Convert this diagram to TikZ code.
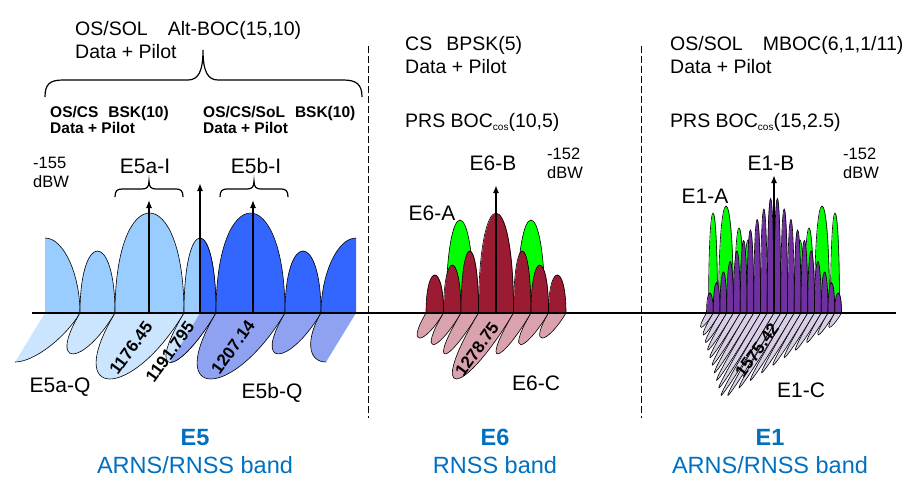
\documentclass[tikz,border=0pt]{standalone}
\usepackage{fontspec}
\setmainfont{Liberation Sans}
\usepackage{tikz}
\usetikzlibrary{arrows.meta}
\definecolor{e5alight}{HTML}{99CCFF}
\definecolor{e5bdark}{HTML}{3366FF}
\definecolor{e5aq}{HTML}{CCE5FF}
\definecolor{e5bq}{HTML}{8FA2F2}
\definecolor{e6red}{HTML}{9A1B32}
\definecolor{e6pink}{HTML}{D9A2AD}
\definecolor{boclime}{HTML}{00FF00}
\definecolor{e1violet}{HTML}{7030A0}
\definecolor{e1lilac}{HTML}{D8CFE6}
\definecolor{bandblue}{HTML}{0070C0}
% a lobe above the axis (from, to, height) and a slanted one below it (from, to, depth)
\newcommand{\upperlobe}[4][]{\draw[#1] ({#2},313) .. controls ({#2},{313-1.333*(#4)}) and ({#3},{313-1.333*(#4)}) .. ({#3},313);}
\newcommand{\lowerlobe}[4][]{\draw[#1] ({#2},313) .. controls ({#2-0.8*(#4)},{313+1.333*(#4)}) and ({#3-0.8*(#4)},{313+1.333*(#4)}) .. ({#3},313);}
\tikzset{
lobe/.style={draw=black, line width=0.6pt},
carrier/.style={line width=#1, -{Latex[length=8pt,width=6pt]}},
carrier/.default=1.3pt,
axisline/.style={line width=2pt},
sep/.style={dash pattern=on 7pt off 3pt, line width=0.8pt},
brace/.style={line width=1.2pt},
txt/.style={inner sep=0pt, anchor=base west, font=\fontsize{19.5}{22}\selectfont},
boldtxt/.style={txt, font=\bfseries\fontsize{15.5}{17}\selectfont},
powtxt/.style={txt, font=\fontsize{16.5}{18}\selectfont},
sig/.style={inner sep=0pt, anchor=base, font=\fontsize{21}{24}\selectfont},
freq/.style={inner sep=0pt, rotate=54, font=\bfseries\fontsize{17}{19}\selectfont},
band/.style={inner sep=0pt, anchor=base, text=bandblue, font=\fontsize{23.5}{26}\selectfont},
bandname/.style={band, font=\bfseries\fontsize{23.5}{26}\selectfont},
}
\newcommand{\cossub}{\raisebox{-3pt}{\fontsize{10}{10}\selectfont cos}}

\begin{document}
\begin{tikzpicture}[x=1pt,y=-1pt]
\useasboundingbox (0,0) rectangle (924,493);

% the E5 band
\fill[e5alight] (45,313) -- (45,238) .. controls (64,238) and (80,275) .. (80,313) -- cycle;
\draw[lobe] (45,238) .. controls (64,238) and (80,275) .. (80,313);
\fill[e5aq] (45,313) -- (15,362) .. controls (34,362) and (65,338) .. (80,313) -- cycle;
\draw[lobe] (15,362) .. controls (34,362) and (65,338) .. (80,313);
\foreach \a/\b/\h in {80/115/62,115/184/100,184/216/75}
{
  \upperlobe[lobe,fill=e5alight]{\a}{\b}{\h}
  \lowerlobe[lobe,fill=e5aq]{\a}{\b}{0.66*\h}
}
\begin{scope}
  \clip (200,150) -- (200,313) -- (140,413) -- (420,413) -- (420,150) -- cycle;
  \upperlobe[lobe,fill=e5bdark]{184}{216}{75}
  \lowerlobe[lobe,fill=e5bq]{184}{216}{0.66*75}
\end{scope}
\foreach \a/\b/\h in {216/285/100,285/321/62}
{
  \upperlobe[lobe,fill=e5bdark]{\a}{\b}{\h}
  \lowerlobe[lobe,fill=e5bq]{\a}{\b}{0.66*\h}
}
\fill[e5bdark] (356,313) -- (356,238) .. controls (337,238) and (321,275) .. (321,313) -- cycle;
\draw[lobe] (356,238) .. controls (337,238) and (321,275) .. (321,313);
\fill[e5bq] (356,313) -- (326,362) .. controls (307,362) and (306,338) .. (321,313) -- cycle;
\draw[lobe] (326,362) .. controls (307,362) and (306,338) .. (321,313);

% the E6 band
\foreach \a/\b in {446/474,517/545}
{
  \upperlobe[lobe,fill=boclime]{\a}{\b}{93}
}
\foreach \a/\b/\h in {426/443.5/38,443.5/461/48,461/478.5/62,478.5/513.5/100,513.5/531/62,531/548.5/48,548.5/566/38}
{
  \upperlobe[lobe,fill=e6red]{\a}{\b}{\h}
  \lowerlobe[lobe,fill=e6pink]{\a}{\b}{0.66*\h}
}

% the E1 band
\foreach \a/\b/\h in {708.5/717.5/100,718.5/733.5/107,734.5/743.5/85,744/752/73,796/804/73,804.5/813.5/85,814.5/829.5/107,830.5/839.5/100}
{
  \upperlobe[lobe,fill=boclime]{\a}{\b}{\h}
}
\foreach \i in {10,...,1}
{
  \upperlobe[lobe,fill=e1violet]{774-6.75*\i}{774-6.75*(\i-1)}{125-10.5*\i}
  \lowerlobe[lobe,fill=e1lilac]{774-6.75*\i}{774-6.75*(\i-1)}{0.72*(125-10.5*\i)}
}
\foreach \i in {1,...,10}
{
  \upperlobe[lobe,fill=e1violet]{774+6.75*(\i-1)}{774+6.75*\i}{125-10.5*\i}
  \lowerlobe[lobe,fill=e1lilac]{774+6.75*(\i-1)}{774+6.75*\i}{0.72*(125-10.5*\i)}
}

% the axis, the separators and the carriers
\coordinate (axis-l) at (32,313);
\coordinate (axis-r) at (896,313);
\draw[axisline] (axis-l) -- (axis-r);
\draw[sep] (368,46) -- (368,418);
\draw[sep] (641,46) -- (641,418);
\coordinate (e5a-f) at (149,313);
\coordinate (e5a-p) at (149,200);
\coordinate (e5-f) at (200,313);
\coordinate (e5-p) at (200,183);
\coordinate (e5b-f) at (253,313);
\coordinate (e5b-p) at (253,200);
\coordinate (e6-f) at (496,313);
\coordinate (e6-p) at (496,185);
\coordinate (e1-f) at (774,313);
\coordinate (e1-p) at (774,175);
\draw[carrier] (e5a-f) -- (e5a-p);
\draw[carrier=2pt] (e5-f) -- (e5-p);
\draw[carrier] (e5b-f) -- (e5b-p);
\draw[carrier=2pt] (e6-f) -- (e6-p);
\draw[carrier=1.6pt] (e1-f) -- (e1-p);

% the braces
\draw[brace] (45,97) .. controls (45,84) and (50,80) .. (63,80) -- (188,80) .. controls (198,80) and (203,72) .. (203,50)
  .. controls (203,72) and (208,80) .. (218,80) -- (343,80) .. controls (356,80) and (362,84) .. (362,97);
\foreach \c in {149,254}
{
  \draw[brace] ({\c-34},197) .. controls ({\c-34},191) and ({\c-32},189) .. ({\c-27},189) -- ({\c-7},189)
    .. controls ({\c-2},189) and (\c,187) .. (\c,181) .. controls (\c,187) and ({\c+2},189) .. ({\c+7},189)
    -- ({\c+27},189) .. controls ({\c+32},189) and ({\c+34},191) .. ({\c+34},197);
}

% E5 labels
\node[txt] (e5-alt) at (75,35) {OS/SOL\hspace{20pt}Alt-BOC(15,10)};
\node[txt] (e5-alt-dp) at (75,58) {Data + Pilot};
\node[boldtxt] (e5a-mod) at (50,117) {OS/CS\hspace{10pt}BSK(10)};
\node[boldtxt] (e5a-dp) at (50,133) {Data + Pilot};
\node[boldtxt] (e5b-mod) at (203,117) {OS/CS/SoL\hspace{10pt}BSK(10)};
\node[boldtxt] (e5b-dp) at (203,133) {Data + Pilot};
\node[powtxt] (e5-pow) at (33,168) {-155};
\node[powtxt] (e5-dbw) at (33,187) {dBW};
\node[sig] (e5a-i) at (145,173) {E5a-I};
\node[sig] (e5b-i) at (256,173) {E5b-I};
\node[sig] (e5a-q) at (60,392) {E5a-Q};
\node[sig] (e5b-q) at (272,398) {E5b-Q};
\node[freq] (f-e5a) at (131,348) {1176.45};
\node[freq] (f-e5) at (170,352) {1191.795};
\node[freq] (f-e5b) at (233,347) {1207.14};

% E6 labels
\node[txt] (e6-cs) at (405,50) {CS\hspace{14pt}BPSK(5)};
\node[txt] (e6-cs-dp) at (405,73) {Data + Pilot};
\node[txt] (e6-prs) at (405,127) {PRS BOC\cossub(10,5)};
\node[sig] (e6-b) at (493,170) {E6-B};
\node[powtxt] (e6-pow) at (547,159) {-152};
\node[powtxt] (e6-dbw) at (547,178) {dBW};
\node[sig] (e6-a) at (432,220) {E6-A};
\node[sig] (e6-c) at (536,390) {E6-C};
\node[freq] (f-e6) at (477,349) {1278.75};

% E1 labels
\node[txt] (e1-mboc) at (670,50) {OS/SOL\hspace{20pt}MBOC(6,1,1/11)};
\node[txt] (e1-mboc-dp) at (670,73) {Data + Pilot};
\node[txt] (e1-prs) at (670,127) {PRS BOC\cossub(15,2.5)};
\node[sig] (e1-b) at (771,170) {E1-B};
\node[powtxt] (e1-pow) at (843,159) {-152};
\node[powtxt] (e1-dbw) at (843,178) {dBW};
\node[sig] (e1-a) at (705,203) {E1-A};
\node[sig] (e1-c) at (801,397) {E1-C};
\node[freq] (f-e1) at (757,350) {1575.42};

% band names
\node[bandname] (e5-name) at (195,445) {E5};
\node[band] (e5-band) at (195,473) {ARNS/RNSS band};
\node[bandname] (e6-name) at (495,445) {E6};
\node[band] (e6-band) at (495,473) {RNSS band};
\node[bandname] (e1-name) at (770,445) {E1};
\node[band] (e1-band) at (770,473) {ARNS/RNSS band};
\end{tikzpicture}
\end{document}
